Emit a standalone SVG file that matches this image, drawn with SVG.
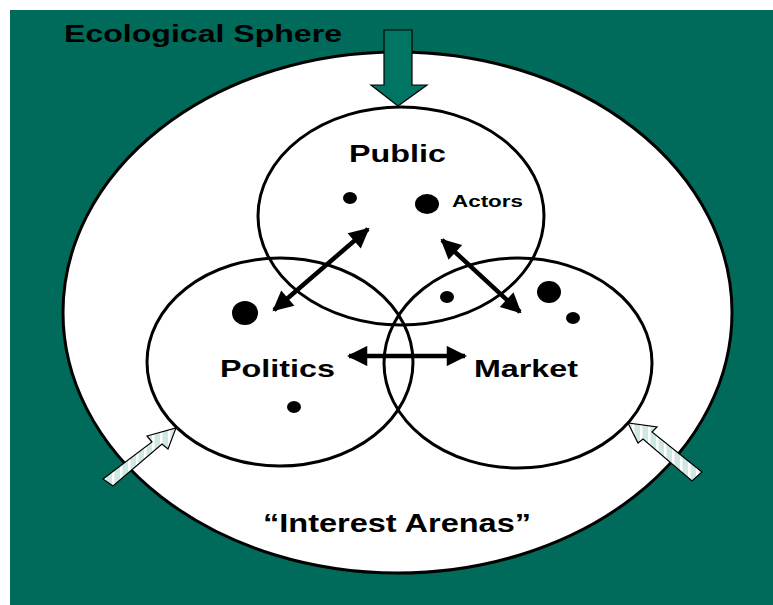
<svg xmlns="http://www.w3.org/2000/svg" width="773" height="605" viewBox="0 0 773 605">
  <style>
    .lbl { font-family: "Liberation Sans", Arial, sans-serif; font-weight: bold; fill: #000; }
    .ring { fill: none; stroke: #000; stroke-width: 3; }
    .dot { fill: #000; }
    .link { stroke: #000; stroke-width: 4.5; fill: none; marker-start: url(#head); marker-end: url(#head); }
    .influx { fill: url(#stripes); stroke: #000; stroke-width: 1.2; }
  </style>
  <defs>
    <marker id="head" viewBox="0 0 10 10" refX="9" refY="5" markerWidth="5.5" markerHeight="4.5" orient="auto-start-reverse" markerUnits="strokeWidth">
      <path d="M0,0 L10,5 L0,10 Z" fill="#000"/>
    </marker>
    <pattern id="stripes" width="8" height="8" patternUnits="userSpaceOnUse">
      <rect width="8" height="8" fill="#cfe8e3"/>
      <rect width="2.5" height="8" fill="#ffffff"/>
    </pattern>
  </defs>

  <!-- backdrop -->
  <rect x="10" y="10" width="763" height="595" fill="#006b5a"/>

  <!-- ecological sphere -->
  <g id="sphere">
    <ellipse cx="397.5" cy="312.5" rx="334.5" ry="260.5" fill="#fff" stroke="#000" stroke-width="3"/>
    <text class="lbl" x="64" y="42" font-size="24" textLength="278" lengthAdjust="spacingAndGlyphs">Ecological Sphere</text>
    <text class="lbl" x="263" y="532" font-size="25" textLength="268" lengthAdjust="spacingAndGlyphs">“Interest Arenas”</text>
  </g>

  <!-- arenas -->
  <g id="public">
    <ellipse class="ring" cx="401" cy="216" rx="143" ry="109"/>
    <text class="lbl" x="349" y="162" font-size="24" textLength="97" lengthAdjust="spacingAndGlyphs">Public</text>
    <ellipse class="dot" cx="350" cy="198" rx="7" ry="6"/>
    <ellipse class="dot" cx="427" cy="204" rx="12" ry="10"/>
    <text class="lbl" x="452" y="207" font-size="17" textLength="71" lengthAdjust="spacingAndGlyphs">Actors</text>
  </g>
  <g id="politics">
    <ellipse class="ring" cx="280" cy="362" rx="133" ry="104"/>
    <text class="lbl" x="220" y="377" font-size="24" textLength="115" lengthAdjust="spacingAndGlyphs">Politics</text>
    <ellipse class="dot" cx="245" cy="313" rx="13" ry="12"/>
    <ellipse class="dot" cx="294" cy="407" rx="7" ry="6"/>
  </g>
  <g id="market">
    <ellipse class="ring" cx="518" cy="363" rx="134" ry="105"/>
    <text class="lbl" x="474" y="377" font-size="24" textLength="104" lengthAdjust="spacingAndGlyphs">Market</text>
    <ellipse class="dot" cx="447" cy="297" rx="7" ry="6"/>
    <ellipse class="dot" cx="549" cy="292" rx="12" ry="11"/>
    <ellipse class="dot" cx="573" cy="318" rx="7" ry="6"/>
  </g>

  <!-- interactions between arenas -->
  <g id="connectors">
    <line class="link" x1="349" y1="356" x2="465" y2="356"/>
    <line class="link" x1="368" y1="229" x2="274" y2="310"/>
    <line class="link" x1="442" y1="240" x2="520" y2="312"/>
  </g>

  <!-- external influences -->
  <g id="inflow-top">
    <path d="M384,30 L412,30 L412,85 L427,85 L398,106 L371,85 L384,85 Z" fill="#007563" stroke="#000" stroke-width="1.2"/>
  </g>
  <g id="inflow-left">
    <path class="influx" d="M103,479 L152,442 L147,436 L176,428 L168,449 L162,444 L113,486 Z"/>
  </g>
  <g id="inflow-right">
    <path class="influx" d="M702,472 L652,432 L657,427 L628,423 L638,443 L643,439 L692,481 Z"/>
  </g>
</svg>
